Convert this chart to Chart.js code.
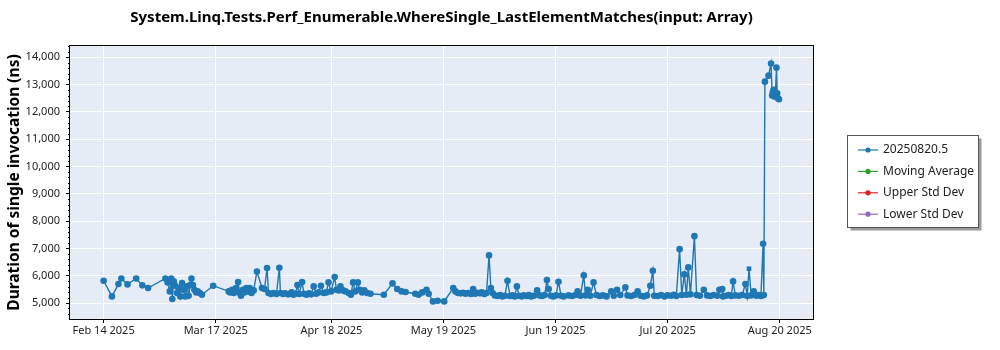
<!DOCTYPE html>
<html>
<head>
<meta charset="utf-8">
<script src="https://cdn.jsdelivr.net/npm/chart.js@4.4.1/dist/chart.umd.min.js"></script>
<style>
  html, body { margin: 0; padding: 0; background: #fff; }
</style>
</head>
<body>
<canvas id="perfChart" width="1000" height="350"></canvas>
<script>
  'use strict';

  const FONT = "'Noto Sans', sans-serif";

  // Run dates as days since Feb 14 2025
  const runDays = [
    0, 2.3, 4.1, 4.9, 6.6, 9.0, 10.7, 12.3, 17.1, 17.7, 18.3, 18.7, 19.0, 19.4, 19.8,
    20.3, 20.8, 21.2, 21.7, 22.1, 22.6, 23.1, 23.5, 24.0, 24.3, 24.7, 25.1, 25.6, 26.0,
    26.6, 27.2, 30.3, 34.6, 35.0, 35.5, 36.0, 36.6, 37.2, 37.6, 38.0, 38.5, 38.9, 39.5,
    39.9, 40.4, 40.9, 41.5, 42.4, 43.8, 44.5, 45.2, 45.6, 46.3, 47.0, 47.8, 48.6, 48.9,
    49.6, 50.2, 51.0, 51.6, 52.0, 52.5, 53.1, 53.6, 54.1, 54.9, 55.4, 56.1, 56.8, 57.4,
    58.1, 58.8, 59.5, 60.1, 60.9, 61.6, 62.2, 62.9, 63.9, 64.4, 65.0, 65.5, 66.2, 66.9,
    67.8, 68.4, 69.0, 69.6, 70.3, 70.8, 71.5, 72.1, 72.9, 73.8, 77.5, 79.9, 81.2, 82.4,
    83.5, 86.2, 87.1, 88.1, 89.3, 89.9, 91.1, 92.4, 94.2, 96.7, 97.3, 98.0, 98.8, 99.4,
    100.1, 100.8, 101.6, 102.2, 102.8, 103.4, 104.1, 104.6, 105.3, 105.9, 106.6, 107.1,
    107.6, 108.2, 109.0, 109.7, 110.3, 111.0, 111.7, 112.4, 113.1, 113.7, 114.3, 114.9,
    115.6, 116.2, 117.0, 117.6, 118.2, 119.0, 119.9, 120.6, 121.3, 122.0, 122.6, 123.1,
    123.7, 124.4, 125.1, 125.8, 126.5, 127.2, 128.6, 129.6, 130.5, 131.1, 131.9, 132.8,
    133.3, 133.9, 134.6, 135.5, 136.3, 137.2, 138.1, 139.1, 140.4, 141.1, 142.0, 142.9,
    144.3, 144.9, 145.9, 146.8, 147.7, 148.5, 149.4, 150.3, 151.2, 151.9, 152.3, 153.3,
    154.2, 155.1, 156.0, 157.0, 157.7, 158.4, 159.3, 159.9, 160.6, 161.2, 161.7, 162.3,
    163.4, 164.0, 164.9, 166.0, 166.9, 167.8, 168.7, 169.7, 170.3, 171.1, 171.3, 172.1,
    172.9, 173.6, 174.1, 174.7, 175.7, 176.6, 177.5, 178.0, 178.5, 179.1, 179.8, 180.5,
    181.2, 181.8, 182.4, 182.6, 182.9, 183.9, 184.6, 184.9, 185.1, 185.3, 185.5, 185.8,
    186.1, 186.3, 186.5, 186.8
  ];

  // Duration of single invocation (ns)
  const runDurations = [
    5816, 5243, 5695, 5900, 5683, 5900, 5647, 5549, 5900, 5756, 5426, 5900, 5146, 5792, 5634,
    5366, 5549, 5243, 5731, 5487, 5243, 5609, 5268, 5670, 5900, 5659, 5487, 5390, 5426,
    5366, 5305, 5634, 5426, 5390, 5487, 5366, 5549, 5768, 5366, 5268, 5487, 5390, 5549,
    5426, 5549, 5366, 5463, 6157, 5549, 5512, 6280, 5366, 5329, 5366, 5329, 6292, 5366,
    5329, 5354, 5317, 5342, 5390, 5305, 5342, 5659, 5329, 5768, 5342, 5305, 5354, 5317,
    5609, 5342, 5390, 5634, 5366, 5390, 5756, 5426, 5950, 5487, 5463, 5609, 5463, 5426,
    5366, 5305, 5756, 5426, 5756, 5487, 5390, 5463, 5366, 5342, 5305, 5719, 5512, 5426,
    5402, 5342, 5305, 5390, 5487, 5342, 5060, 5085, 5060, 5549, 5426, 5366, 5354, 5378,
    5342, 5366, 5329, 5512, 5342, 5378, 5354, 5390, 5329, 5366, 6744, 5549,
    5366, 5280, 5255, 5292, 5243, 5268, 5817, 5255, 5280, 5243, 5609, 5268,
    5243, 5280, 5255, 5292, 5243, 5268, 5463, 5280, 5255, 5292, 5841, 5512,
    5268, 5243, 5280, 5780, 5268, 5243, 5280, 5255, 5292, 5426, 5268, 6011,
    5280, 5487, 5268, 5756, 5292, 5255, 5280, 5243, 5426, 5268, 5487, 5292,
    5573, 5280, 5255, 5292, 5426, 5268, 5243, 5280, 5634, 6182, 5268, 5255,
    5292, 5243, 5280, 5268, 5305, 5255, 6974, 5292, 6048, 5305, 6304, 5317,
    7450, 5292, 5268, 5487, 5280, 5255, 5292, 5268, 5487, 5512, 5243, 5268,
    5292, 5255, 5792, 5280, 5268, 5292, 5695, 5255, 6255, 5280, 5426, 5268,
    5292, 5255, 7170, 5290, 13108, 13328, 13773, 12598, 12720, 12805, 12560, 12650,
    13621, 12684, 12500, 12464
  ];

  // run drawn with a square marker
  const squareRunDay = 178.5;

  const xTickDays = [0, 31, 63, 94, 125, 156, 187];
  const xTickLabels = ['Feb 14 2025', 'Mar 17 2025', 'Apr 18 2025', 'May 19 2025',
    'Jun 19 2025', 'Jul 20 2025', 'Aug 20 2025'];
  const yTickValues = [5000, 6000, 7000, 8000, 9000, 10000, 11000, 12000, 13000, 14000];

  const seriesLabels = ['20250820.5', 'Moving Average', 'Upper Std Dev', 'Lower Std Dev'];
  const seriesColors = ['#1f77b4', '#2ca02c', '#d62728', '#9467bd'];

  const chartTitle = 'System.Linq.Tests.Perf_Enumerable.WhereSingle_LastElementMatches(input: Array)';

  // plot background, frame, minor ticks, title and the boxed legend
  const decorations = {
    id: 'decorations',
    beforeDraw(chart) {
      const { ctx, chartArea: a } = chart;
      ctx.save();
      ctx.fillStyle = '#e5ecf6';
      ctx.fillRect(a.left, a.top, a.right - a.left, a.bottom - a.top);
      ctx.restore();
    },
    afterDraw(chart) {
      const { ctx, chartArea: a } = chart;
      const y = chart.scales.y;
      ctx.save();
      ctx.strokeStyle = '#000';
      ctx.lineWidth = 1;
      ctx.strokeRect(Math.round(a.left) - 0.5, Math.round(a.top) - 0.5,
        Math.round(a.right - a.left) + 1, Math.round(a.bottom - a.top) + 1);

      // minor ticks on y
      ctx.beginPath();
      for (let v = 4600; v <= 14400; v += 200) {
        if (v % 1000 === 0) continue;
        const py = Math.round(y.getPixelForValue(v)) + 0.5;
        ctx.moveTo(a.left - 2, py);
        ctx.lineTo(a.left, py);
      }
      ctx.stroke();

      // title
      ctx.fillStyle = '#000';
      ctx.font = 'bold 15px ' + FONT;
      ctx.textAlign = 'center';
      ctx.textBaseline = 'middle';
      ctx.fillText(chartTitle, (a.left + a.right) / 2, 18);

      // legend
      const bx = 847.5, by = 135.5, bw = 131, bh = 92;
      ctx.fillStyle = '#9a9a9a';
      ctx.fillRect(bx + 3, by + 3, bw, bh);
      ctx.fillStyle = '#fff';
      ctx.fillRect(bx, by, bw, bh);
      ctx.strokeStyle = '#555';
      ctx.strokeRect(bx, by, bw, bh);
      ctx.font = '12px ' + FONT;
      ctx.textAlign = 'left';
      chart.data.datasets.forEach((ds, i) => {
        const ly = 150 + i * 21.4;
        ctx.strokeStyle = ds.borderColor;
        ctx.lineWidth = 1.2;
        ctx.beginPath();
        ctx.moveTo(858, ly);
        ctx.lineTo(878, ly);
        ctx.stroke();
        ctx.fillStyle = ds.borderColor;
        ctx.beginPath();
        ctx.arc(868, ly, 2.6, 0, Math.PI * 2);
        ctx.fill();
        ctx.fillStyle = '#222';
        ctx.fillText(ds.label, 883, ly);
      });
      ctx.restore();
    }
  };

  const points = runDays.map((d, i) => ({ x: d, y: runDurations[i] }));

  const datasets = seriesLabels.map((label, i) => ({
    label: label,
    data: i === 0 ? points : [],
    borderColor: seriesColors[i],
    backgroundColor: seriesColors[i],
    borderWidth: 1.4,
    pointRadius: 3.3,
    pointBorderWidth: 0,
    pointStyle: i === 0 ? runDays.map(d => (d === squareRunDay ? 'rect' : 'circle')) : 'circle',
    tension: 0
  }));

  const ctx = document.getElementById('perfChart');
  // eslint-disable-next-line no-unused-vars
  const perfChart = new Chart(ctx, {
    type: 'line',
    data: { datasets: datasets },
    plugins: [decorations],
    options: {
      responsive: false,
      animation: false,
      layout: { padding: { top: 46, right: 187, left: 0, bottom: 0 } },
      plugins: {
        legend: { display: false },
        title: { display: false },
        tooltip: { enabled: false }
      },
      scales: {
        x: {
          type: 'linear',
          min: -9.3,
          max: 196.2,
          afterBuildTicks: (s) => { s.ticks = xTickDays.map(v => ({ value: v })); },
          afterFit: (s) => { s.height = 31; },
          ticks: {
            autoSkip: false,
            maxRotation: 0,
            padding: 1,
            color: '#222',
            font: { family: FONT, size: 11 },
            callback: (v, i) => xTickLabels[i]
          },
          grid: { color: '#fff', lineWidth: 1, tickColor: '#000', tickLength: 4 },
          border: { display: false }
        },
        y: {
          min: 4415,
          max: 14413,
          afterBuildTicks: (s) => { s.ticks = yTickValues.map(v => ({ value: v })); },
          afterFit: (s) => { s.width = 70; },
          ticks: {
            padding: 6,
            color: '#222',
            font: { family: FONT, size: 11 },
            callback: (v) => v.toLocaleString('en-US')
          },
          grid: { color: '#fff', lineWidth: 1, tickColor: '#000', tickLength: 4 },
          border: { display: false },
          title: {
            display: true,
            text: 'Duration of single invocation (ns)',
            color: '#000',
            font: { family: FONT, size: 15.5, weight: 'bold' },
            padding: { top: 5, bottom: 0 }
          }
        }
      }
    }
  });
</script>
</body>
</html>
